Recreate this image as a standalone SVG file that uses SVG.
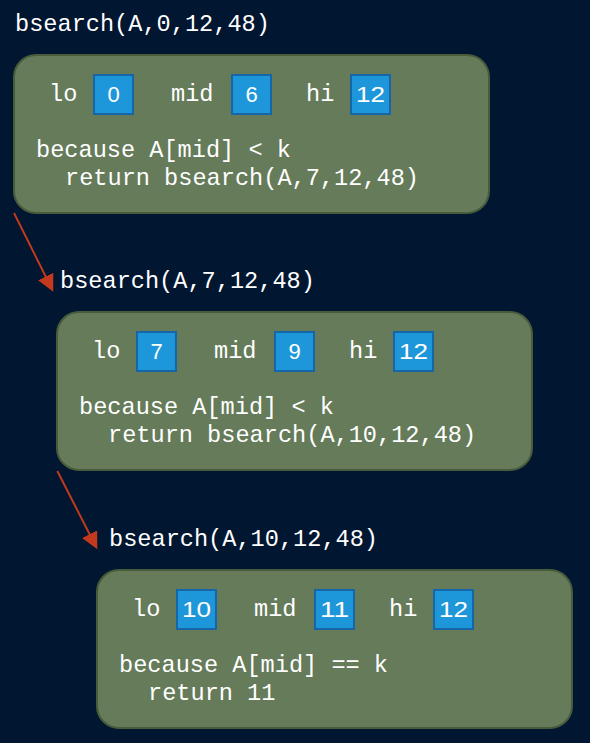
<svg xmlns="http://www.w3.org/2000/svg" width="590" height="743" viewBox="0 0 590 743">
  <defs>
    <style>
      .bg { fill: #011630; }
      .frame { fill: #657b5a; stroke: #485c3b; stroke-width: 2; }
      .cell { fill: #1e97da; stroke: #1466a6; stroke-width: 2; }
      .mono { font-family: "Liberation Mono", "Courier New", monospace; font-size: 23.6px; fill: #ffffff; }
      .num { font-family: "Liberation Sans", Arial, sans-serif; font-size: 22px; fill: #ffffff; text-anchor: middle; }
      .conn { stroke: #c2391d; stroke-width: 2; fill: none; marker-end: url(#arrow); }
    </style>
    <marker id="arrow" viewBox="0 0 17 17" refX="9" refY="8.5" markerWidth="17" markerHeight="17" markerUnits="userSpaceOnUse" orient="auto">
      <path d="M0,0 L17,8.5 L0,17 z" fill="#c2391d"/>
    </marker>
  </defs>
  <rect class="bg" x="0" y="0" width="590" height="743"/>

  <g id="call1">
    <text class="mono" x="15" y="31">bsearch(A,0,12,48)</text>
    <g transform="translate(14,55)">
      <rect class="frame" x="0" y="0" width="475" height="158" rx="22" ry="22"/>
      <text class="mono" x="35" y="46">lo</text>
      <rect class="cell" x="80" y="20" width="39" height="39"/>
      <text class="num" x="99.5" y="47">0</text>
      <text class="mono" x="157" y="46">mid</text>
      <rect class="cell" x="218" y="20" width="39" height="39"/>
      <text class="num" x="237.5" y="47">6</text>
      <text class="mono" x="292" y="46">hi</text>
      <rect class="cell" x="337" y="20" width="39" height="39"/>
      <text class="num" x="356.5" y="47" textLength="29" lengthAdjust="spacingAndGlyphs">12</text>
      <text class="mono" x="22" y="102">because A[mid] &lt; k</text>
      <text class="mono" x="51" y="130">return bsearch(A,7,12,48)</text>
    </g>
  </g>

  <g id="call2">
    <text class="mono" x="60" y="288">bsearch(A,7,12,48)</text>
    <g transform="translate(57,312)">
      <rect class="frame" x="0" y="0" width="475" height="158" rx="22" ry="22"/>
      <text class="mono" x="35" y="46">lo</text>
      <rect class="cell" x="80" y="20" width="39" height="39"/>
      <text class="num" x="99.5" y="47">7</text>
      <text class="mono" x="157" y="46">mid</text>
      <rect class="cell" x="218" y="20" width="39" height="39"/>
      <text class="num" x="237.5" y="47">9</text>
      <text class="mono" x="292" y="46">hi</text>
      <rect class="cell" x="337" y="20" width="39" height="39"/>
      <text class="num" x="356.5" y="47" textLength="29" lengthAdjust="spacingAndGlyphs">12</text>
      <text class="mono" x="22" y="102">because A[mid] &lt; k</text>
      <text class="mono" x="51" y="130">return bsearch(A,10,12,48)</text>
    </g>
  </g>

  <g id="call3">
    <text class="mono" x="109" y="546">bsearch(A,10,12,48)</text>
    <g transform="translate(97,570)">
      <rect class="frame" x="0" y="0" width="475" height="158" rx="22" ry="22"/>
      <text class="mono" x="35" y="46">lo</text>
      <rect class="cell" x="80" y="20" width="39" height="39"/>
      <text class="num" x="99.5" y="47" textLength="29" lengthAdjust="spacingAndGlyphs">10</text>
      <text class="mono" x="157" y="46">mid</text>
      <rect class="cell" x="218" y="20" width="39" height="39"/>
      <text class="num" x="237.5" y="47" textLength="29" lengthAdjust="spacingAndGlyphs">11</text>
      <text class="mono" x="292" y="46">hi</text>
      <rect class="cell" x="337" y="20" width="39" height="39"/>
      <text class="num" x="356.5" y="47" textLength="29" lengthAdjust="spacingAndGlyphs">12</text>
      <text class="mono" x="22" y="102">because A[mid] == k</text>
      <text class="mono" x="51" y="130">return 11</text>
    </g>
  </g>

  <g id="connectors">
    <line class="conn" x1="14" y1="213" x2="49.7" y2="284.5"/>
    <line class="conn" x1="57.3" y1="471" x2="93.7" y2="542.2"/>
  </g>
</svg>
